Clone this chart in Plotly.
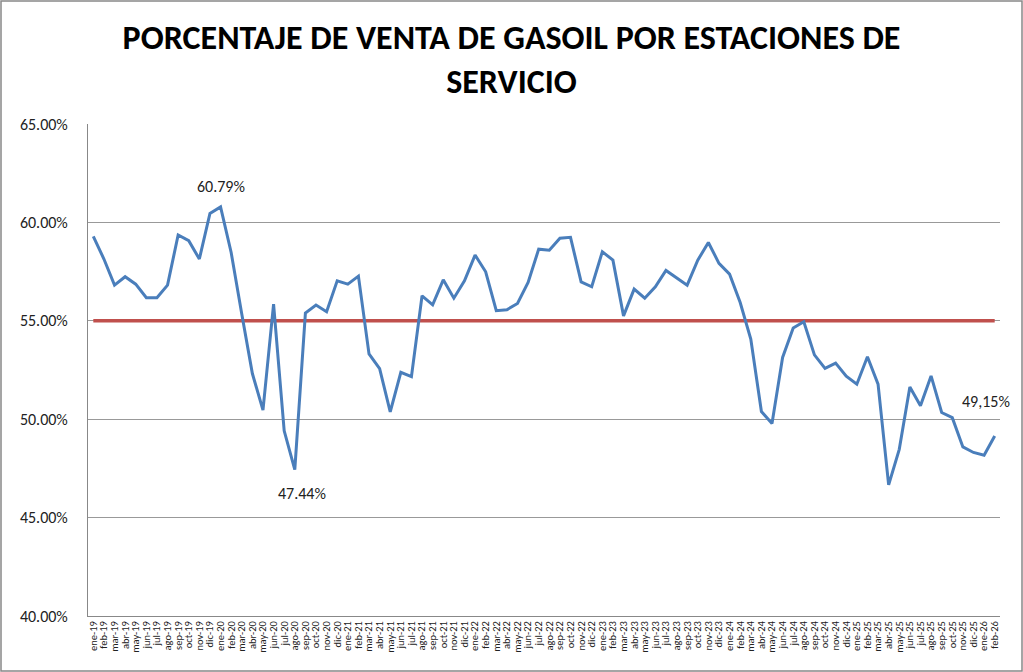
import plotly.graph_objects as go

months = ["ene", "feb", "mar", "abr", "may", "jun", "jul", "ago", "sep", "oct", "nov", "dic"]
categories = [f"{m}-{y}" for y in ["19", "20", "21", "22", "23", "24", "25"] for m in months] + ["ene-26", "feb-26"]

pct_estaciones = [
    59.29, 58.14, 56.81, 57.24, 56.86, 56.17, 56.17, 56.81, 59.36, 59.07, 58.14, 60.46,  # 2019
    60.79, 58.47, 55.34, 52.32, 50.46, 55.85, 49.41, 47.44, 55.39, 55.80, 55.46, 57.03,  # 2020
    56.86, 57.27, 53.32, 52.57, 50.37, 52.38, 52.16, 56.27, 55.81, 57.08, 56.15, 57.03,  # 2021
    58.34, 57.49, 55.51, 55.56, 55.88, 56.95, 58.64, 58.59, 59.20, 59.24, 56.98, 56.73,  # 2022
    58.51, 58.08, 55.25, 56.61, 56.15, 56.73, 57.56, 57.20, 56.81, 58.08, 58.98, 57.92,  # 2023
    57.37, 55.93, 54.07, 50.39, 49.78, 53.14, 54.63, 54.95, 53.27, 52.58, 52.85, 52.19,  # 2024
    51.78, 53.17, 51.78, 46.66, 48.47, 51.64, 50.68, 52.20, 50.34, 50.08, 48.59, 48.31,  # 2025
    48.17, 49.15,  # 2026
]
objetivo = [55.0] * len(categories)

y_ticks = [40, 45, 50, 55, 60, 65]
y_tick_labels = ["40.00%", "45.00%", "50.00%", "55.00%", "60.00%", "65.00%"]

labels = [("ene-20", 60.79, "60.79%", 0, 20),
          ("ago-20", 47.44, "47.44%", 7, -24),
          ("feb-26", 49.15, "49,15%", -9, 34)]

FONT = "Carlito, Lato, sans-serif"

fig = go.Figure()
fig.add_trace(go.Scatter(x=categories, y=objetivo, mode="lines",
                         line=dict(color="#C0504D", width=3.5), hoverinfo="skip"))
fig.add_trace(go.Scatter(x=categories, y=pct_estaciones, mode="lines",
                         line=dict(color="#4A7EBB", width=3)))

for cat, val, txt, dx, dy in labels:
    fig.add_annotation(x=cat, y=val, text=txt, showarrow=False, xshift=dx, yshift=dy,
                       font=dict(family=FONT, size=16, color="#222222"))

W, H = 1023, 672
L, R, T, B = 88, 23, 124, 56
pw, ph = W - L - R, H - T - B
# outer border of the chart
fig.add_shape(type="rect", xref="paper", yref="paper",
              x0=(-L + 1) / pw, x1=(pw + R - 1) / pw,
              y0=(-B + 1) / ph, y1=(ph + T - 1) / ph,
              line=dict(color="#888888", width=1.5), layer="below")

fig.update_layout(
    width=W, height=H,
    margin=dict(l=L, r=R, t=T, b=B),
    paper_bgcolor="white", plot_bgcolor="white",
    showlegend=False,
    title=dict(text="PORCENTAJE DE VENTA DE GASOIL POR ESTACIONES DE<br>SERVICIO",
               x=0.5, xanchor="center", y=1 - 49 / H, yanchor="middle",
               font=dict(family=FONT, size=34, color="black", weight="bold")),
    xaxis=dict(type="category", range=[-0.5, len(categories) - 0.5],
               tickmode="linear", dtick=1,
               tickangle=-90, tickfont=dict(family=FONT, size=10.5, color="#222222"),
               showgrid=False, showline=True, linecolor="#888888", linewidth=1,
               ticks="", fixedrange=True),
    yaxis=dict(range=[40, 65], tickmode="array", tickvals=y_ticks, ticktext=y_tick_labels,
               tickfont=dict(family=FONT, size=16, color="#222222"),
               showgrid=True, gridcolor="#999999", gridwidth=1,
               showline=True, linecolor="#888888", linewidth=1,
               zeroline=False, ticks="", ticklabelstandoff=16),
)

fig.write_html("out.html", config={"displayModeBar": False},
               post_script="document.body.style.margin='0px';")
